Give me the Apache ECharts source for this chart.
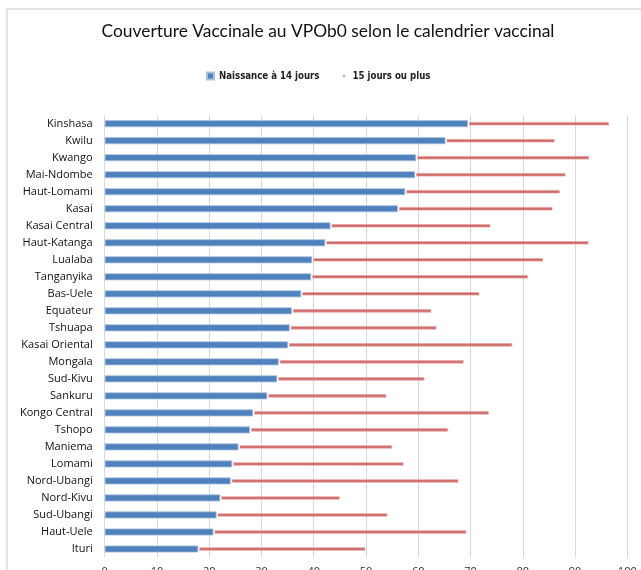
<!DOCTYPE html>
<html>
<head>
<meta charset="utf-8">
<script src="https://cdn.jsdelivr.net/npm/echarts@6/dist/echarts.min.js"></script>
<style>
html,body{margin:0;padding:0;background:#fff;}
#chart{width:641px;height:570px;}
</style>
</head>
<body>
<div id="chart"></div>
<script>
var categories = ['Kinshasa','Kwilu','Kwango','Mai-Ndombe','Haut-Lomami','Kasai','Kasai Central','Haut-Katanga','Lualaba','Tanganyika','Bas-Uele','Equateur','Tshuapa','Kasai Oriental','Mongala','Sud-Kivu','Sankuru','Kongo Central','Tshopo','Maniema','Lomami','Nord-Ubangi','Nord-Kivu','Sud-Ubangi','Haut-Uele','Ituri'];
var naissance14 = [69.5,65.2,59.6,59.4,57.5,56.1,43.2,42.2,39.7,39.5,37.6,35.8,35.4,35.1,33.3,33.0,31.1,28.4,27.8,25.6,24.4,24.1,22.1,21.4,20.8,17.9];
var jours15plus = [26.9,20.8,33.0,28.7,29.5,29.5,30.5,50.3,44.1,41.4,34.0,26.6,28.0,42.8,35.3,28.1,22.7,45.0,37.8,29.3,32.7,43.5,22.8,32.6,48.3,31.9];
var xTicks = [0,10,20,30,40,50,60,70,80,90,100];

var redData = categories.map(function(c, i){
  return [naissance14[i], naissance14[i] + jours15plus[i], i];
});

var chart = echarts.init(document.getElementById('chart'));
chart.setOption({
  animation: false,
  backgroundColor: '#fff',
  title: {
    text: 'Couverture Vaccinale au VPOb0 selon le calendrier vaccinal',
    left: 323, textAlign: 'center', top: 18,
    textStyle: {fontFamily: 'Lato, sans-serif', fontSize: 17.4, fontWeight: 'normal', color: '#111'}
  },
  legend: {
    left: 201, top: 66,
    itemWidth: 7, itemHeight: 7, itemGap: 21,
    textStyle: {fontFamily: "'Liberation Sans Narrow','DejaVu Sans Condensed',sans-serif", fontSize: 9.6, fontWeight: 'bold', color: '#222'},
    data: [
      {name: 'Naissance à 14 jours', icon: 'rect', itemStyle: {color: '#4F81BD'}},
      {name: '15 jours ou plus', icon: 'path://M0,0M10,10M3.2,3.2h3.6v3.6h-3.6z', itemStyle: {color: '#e3a3a2'}}
    ]
  },
  graphic: [{
    type: 'rect', silent: true, z: -1,
    shape: {x: 7, y: 9, width: 720, height: 620},
    style: {fill: 'none', stroke: '#dcdcdc', lineWidth: 1.5}
  }],
  grid: {left: 104.7, right: 13.7, top: 115.2, bottom: 12.5, containLabel: false, outerBoundsMode: 'none'},
  xAxis: {
    type: 'value', min: 0, max: 100, interval: 10,
    axisLine: {show: false}, axisTick: {show: false},
    splitLine: {show: true, lineStyle: {color: '#d9d9d9', width: 1}},
    axisLabel: {margin: 9, fontSize: 11, color: '#333', fontFamily: 'Open Sans, sans-serif',
      formatter: function(v){ return xTicks.indexOf(v) >= 0 ? String(v) : ''; }}
  },
  yAxis: {
    type: 'category', data: categories, inverse: true,
    axisLine: {show: false}, axisTick: {show: false}, splitLine: {show: false},
    axisLabel: {margin: 12, fontSize: 11, color: '#111', fontFamily: 'Open Sans, sans-serif'}
  },
  series: [
    {
      name: 'Naissance à 14 jours', type: 'bar', data: naissance14, barWidth: 7,
      itemStyle: {color: '#4F81BD', borderColor: '#a9c1e0', borderWidth: 0.8}
    },
    {
      name: '15 jours ou plus', type: 'custom', data: redData,
      encode: {x: [0, 1], y: 2},
      itemStyle: {color: '#cd6a68'},
      renderItem: function(params, api){
        var s = api.coord([api.value(0), api.value(2)]);
        var e = api.coord([api.value(1), api.value(2)]);
        var h = 2.6;
        return {
          type: 'rect',
          shape: {x: s[0] + 1.5, y: s[1] - h/2, width: e[0] - s[0] - 1.5, height: h},
          style: {fill: '#cd6a68', stroke: 'rgba(230,160,160,0.55)', lineWidth: 1.2}
        };
      }
    }
  ]
});
</script>
</body>
</html>
